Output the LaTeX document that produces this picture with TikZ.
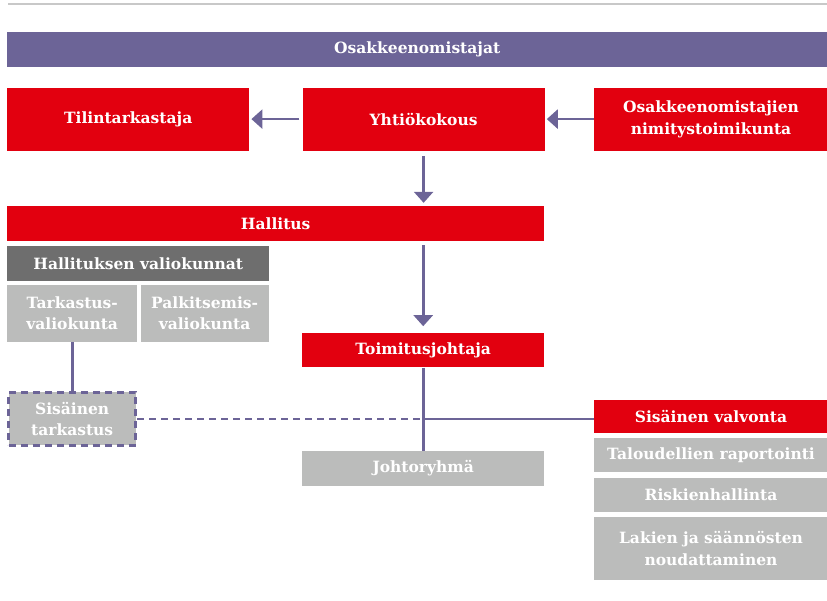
\documentclass[tikz,border=0pt]{standalone}
\usepackage{fontspec}
\setmainfont{DejaVu Serif}
\usetikzlibrary{positioning}
\usetikzlibrary{arrows.meta}

\definecolor{orgred}{HTML}{E2000F}
\definecolor{orgpurple}{HTML}{6C6497}
\definecolor{orgdark}{HTML}{6E6E6E}
\definecolor{orglight}{HTML}{BBBCBB}
\definecolor{orgrule}{HTML}{C8C8C8}

\tikzset{
  box/.style={inner sep=0pt, text=white, align=center,
    font=\fontsize{15.5}{21.5}\selectfont\bfseries},
  redbox/.style={box, fill=orgred},
  greybox/.style={box, fill=orglight},
  darkbox/.style={box, fill=orgdark},
  link/.style={orgpurple, line width=2.6pt},
  arrow/.style={link, -{Triangle[width=19pt,length=11pt]}},
  dashlink/.style={orgpurple, line width=2.8pt, dash pattern=on 7pt off 5pt},
}

\begin{document}
\begin{tikzpicture}[x=1pt,y=1pt]
\useasboundingbox (0,0) rectangle (827,-600);

% Top rule
\draw[orgrule, line width=1.5pt] (8,-4) -- (827,-4);

% Shareholders
\node [box, fill=orgpurple,
    minimum width=820pt,
    minimum height=35pt,
    anchor=north west
] (owners) at (7,-32) {Osakkeenomistajat};

% Auditor, general meeting, nomination board
\node [redbox,
    minimum width=242pt,
    minimum height=63pt,
    below=20pt of owners.south west, anchor=north west
] (auditor) {Tilintarkastaja};
\node [redbox,
    minimum width=242pt,
    minimum height=63pt,
    right=53pt of auditor
] (agm) {Yhtiökokous};
\node [redbox,
    minimum width=234pt,
    minimum height=63pt,
    right=49pt of agm
] (nomination) {Osakkeenomistajien\\nimitystoimikunta};

% Board
\node [redbox,
    minimum width=537pt,
    minimum height=35pt,
    below=55pt of auditor.south west, anchor=north west
] (board) {Hallitus};

% Board committees
\node [darkbox,
    minimum width=262pt,
    minimum height=35pt,
    below=5pt of board.south west, anchor=north west
] (committees) {Hallituksen valiokunnat};
\node [greybox,
    minimum width=130pt,
    minimum height=57pt,
    below=3pt of committees.south west, anchor=north west
] (auditcom) {Tarkastus-\\valiokunta};
\node [greybox,
    minimum width=128pt,
    minimum height=57pt,
    right=3pt of auditcom
] (paycom) {Palkitsemis-\\valiokunta};
\node [greybox,
    minimum width=127pt,
    minimum height=53pt,
    draw=orgpurple, line width=2.8pt, dash pattern=on 7pt off 5pt,
    below=49pt of auditcom
] (internalaudit) {Sisäinen\\tarkastus};

% CEO and management
\node [redbox,
    minimum width=242pt,
    minimum height=34pt,
    below=92pt of board.south east, anchor=north east
] (ceo) {Toimitusjohtaja};
\node [greybox,
    minimum width=242pt,
    minimum height=35pt,
    below=83pt of ceo
] (mgmt) {Johtoryhmä};

% Internal control
\node [redbox,
    minimum width=234pt,
    minimum height=33pt,
    below=249pt of nomination
] (control) {Sisäinen valvonta};
\node [greybox,
    minimum width=234pt,
    minimum height=34pt,
    below=5pt of control
] (reporting) {Taloudellien raportointi};
\node [greybox,
    minimum width=234pt,
    minimum height=34pt,
    below=5pt of reporting
] (risk) {Riskienhallinta};
\node [greybox,
    minimum width=234pt,
    minimum height=63pt,
    below=5pt of risk
] (compliance) {Lakien ja säännösten\\noudattaminen};

% Arrows
\draw[arrow, shorten <=3pt, shorten >=2pt] (agm.west) -- (auditor.east);
\draw[arrow, shorten >=2pt] (nomination.west) -- (agm.east);
\draw[arrow, shorten <=5pt, shorten >=3pt] (agm.south) -- (board.north -| agm.south);
\draw[arrow, shorten <=4pt, shorten >=7pt] (board.south -| ceo.north) -- (ceo.north);

% Lines
\draw[link] (ceo.south) -- (mgmt.north);
\draw[link] (auditcom.south) -- (internalaudit.north);
\coordinate (junction) at (ceo.south |- internalaudit.east);
\draw[dashlink] (internalaudit.east) -- (junction);
\draw[link] (junction) -- (junction -| control.west);

\end{tikzpicture}
\end{document}
